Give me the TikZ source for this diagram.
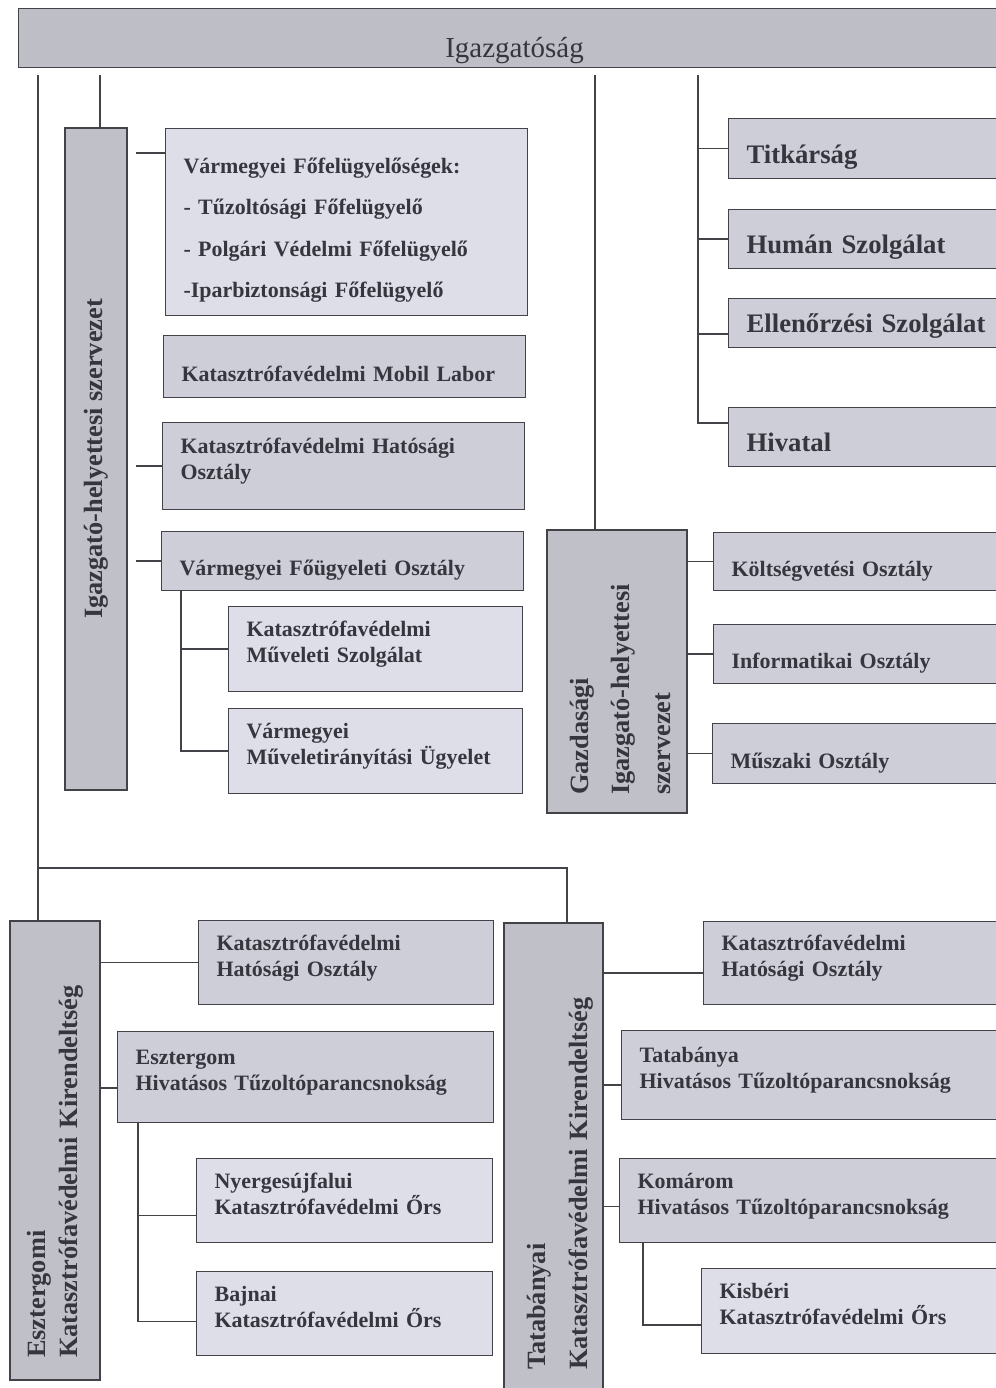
\documentclass[tikz,border=0pt]{standalone}
\usepackage{fontspec}
\setmainfont{Liberation Serif}

\definecolor{linec}{RGB}{66,66,72}
\definecolor{txtc}{RGB}{54,54,62}
\definecolor{topc}{RGB}{190,190,198}
\definecolor{vertc}{RGB}{192,192,200}
\definecolor{boxc}{RGB}{206,206,216}
\definecolor{lightc}{RGB}{222,222,232}

\begin{document}
\begin{tikzpicture}[x=0.02cm,y=-0.02cm,
  unit/.style={draw=linec,line width=0.7pt,fill=boxc,anchor=north west,align=left,
    inner xsep=0.36cm,inner ysep=0pt,text=txtc,font=\fontsize{12.5}{14.8}\selectfont\bfseries},
  one/.style={text height=0.68cm,text depth=0.1cm},
  two/.style={text height=0.32cm,text depth=0.82cm},
  big/.style={font=\fontsize{15.2}{18}\selectfont\bfseries},
  light/.style={fill=lightc},
  vert/.style={draw=linec,line width=0.7pt,fill=vertc,rotate=90,align=left,inner ysep=0pt,
    text=txtc,font=\fontsize{15}{18.2}\selectfont\bfseries},
  conn/.style={draw=linec,line width=1pt}]
  %\draw[step=100,gray,very thin] (0,0) grid (996,1388);

  \useasboundingbox (0,0) rectangle (996,1388);
  \fill[white] (0,0) rectangle (996,1388);

  % top
  \node[unit,fill=topc,align=center,font=\fontsize{16.5}{19}\selectfont,text width=19.12cm,
    minimum height=1.18cm,text height=0.86cm,text depth=0.1cm] (igazg) at (18,8) {Igazgatóság};

  % left column
  \node[vert,align=center,minimum width=13.24cm,minimum height=1.24cm] (ighely) at (96,459) {Igazgató-helyettesi szervezet};
  \node[unit,light,text width=6.52cm,minimum height=3.74cm,text height=0.32cm,text depth=2.26cm,
    font=\fontsize{12.5}{23.5}\selectfont\bfseries] (felugy) at (165,128)
    {Vármegyei Főfelügyelőségek:\\- Tűzoltósági Főfelügyelő\\- Polgári Védelmi Főfelügyelő\\-Iparbiztonsági Főfelügyelő};
  \node[unit,one,text width=6.52cm,minimum height=1.24cm] (labor) at (163,335) {Katasztrófavédelmi Mobil Labor};
  \node[unit,two,text width=6.52cm,minimum height=1.74cm] (hatos1) at (162,422) {Katasztrófavédelmi Hatósági\\Osztály};
  \node[unit,one,text width=6.52cm,minimum height=1.18cm] (fougy) at (161,531) {Vármegyei Főügyeleti Osztály};
  \node[unit,two,light,text width=5.16cm,minimum height=1.7cm] (muvszolg) at (228,606) {Katasztrófavédelmi\\Műveleti Szolgálat};
  \node[unit,two,light,text width=5.16cm,minimum height=1.7cm] (iranyit) at (228,708) {Vármegyei\\Műveletirányítási Ügyelet};

  % right column
  \node[unit,one,big,text width=4.92cm,minimum height=1.2cm] (titk) at (728,118) {Titkárság};
  \node[unit,one,big,text width=4.92cm,minimum height=1.18cm] (human) at (728,209) {Humán Szolgálat};
  \node[unit,one,big,text width=4.92cm,minimum height=0.98cm,text height=0.48cm] (ellen) at (728,298) {Ellenőrzési Szolgálat};
  \node[unit,one,big,text width=4.92cm,minimum height=1.18cm] (hivatal) at (728,407) {Hivatal};

  \node[vert,minimum width=5.66cm,minimum height=2.8cm,text width=4.94cm,inner xsep=0.36cm,text height=0.5cm,
    font=\fontsize{15}{23.3}\selectfont\bfseries] (gazd) at (617,671.5) {Gazdasági\\Igazgató-helyettesi\\szervezet};
  \node[unit,one,text width=5.22cm,minimum height=1.16cm] (kolts) at (713,532) {Költségvetési Osztály};
  \node[unit,one,text width=5.22cm,minimum height=1.18cm] (infor) at (713,624) {Informatikai Osztály};
  \node[unit,one,text width=5.24cm,minimum height=1.2cm] (muszak) at (712,723) {Műszaki Osztály};

  % Esztergom
  \node[vert,minimum width=9.18cm,minimum height=1.8cm,text width=8.3cm,inner xsep=0.44cm] (eszt) at (55,1150.5)
    {Esztergomi\\Katasztrófavédelmi Kirendeltség};
  \node[unit,two,text width=5.18cm,minimum height=1.68cm] (hatos2) at (198,920) {Katasztrófavédelmi\\Hatósági Osztály};
  \node[unit,two,text width=6.8cm,minimum height=1.82cm] (htp1) at (117,1031) {Esztergom\\Hivatásos Tűzoltóparancsnokság};
  \node[unit,two,light,text width=5.2cm,minimum height=1.68cm] (nyerg) at (196,1158) {Nyergesújfalui\\Katasztrófavédelmi Őrs};
  \node[unit,two,light,text width=5.2cm,minimum height=1.68cm] (bajna) at (196,1271) {Bajnai\\Katasztrófavédelmi Őrs};

  % Tatabanya
  \node[vert,minimum width=9.5cm,minimum height=1.98cm,text width=8.38cm,inner xsep=0.56cm,text height=0.62cm,
    font=\fontsize{15}{23.8}\selectfont\bfseries] (tata) at (553.5,1160.5) {Tatabányai\\Katasztrófavédelmi Kirendeltség};
  \node[unit,two,text width=5.42cm,minimum height=1.66cm] (hatos3) at (703,921) {Katasztrófavédelmi\\Hatósági Osztály};
  \node[unit,two,text width=7.06cm,minimum height=1.78cm] (htp2) at (621,1030) {Tatabánya\\Hivatásos Tűzoltóparancsnokság};
  \node[unit,two,text width=7.1cm,minimum height=1.68cm] (komar) at (619,1158) {Komárom\\Hivatásos Tűzoltóparancsnokság};
  \node[unit,two,light,text width=5.46cm,minimum height=1.7cm] (kisb) at (701,1268) {Kisbéri\\Katasztrófavédelmi Őrs};

  % branch points
  \coordinate (cA) at (38,75);
  \coordinate (cB) at (100,75);
  \coordinate (cC) at (595,75);
  \coordinate (cD) at (698,75);
  \coordinate (cE) at (567,868);
  \coordinate (felugy-in) at ([yshift=-0.5cm]felugy.north west);
  \coordinate (ellen-in) at ([yshift=-0.22cm]ellen.west);
  \coordinate (hivatal-in) at ([yshift=0.28cm]hivatal.west);
  \coordinate (fougy-out) at ([xshift=0.4cm]fougy.south west);
  \coordinate (htp1-in) at ([yshift=-0.22cm]htp1.west);
  \coordinate (htp1-out) at ([xshift=0.42cm]htp1.south west);
  \coordinate (nyerg-in) at ([yshift=-0.3cm]nyerg.west);
  \coordinate (bajna-in) at ([yshift=-0.16cm]bajna.west);
  \coordinate (hatos3-in) at ([yshift=-0.2cm]hatos3.west);
  \coordinate (htp2-in) at ([yshift=-0.2cm]htp2.west);
  \coordinate (komar-in) at ([yshift=-0.12cm]komar.west);
  \coordinate (komar-out) at ([xshift=0.48cm]komar.south west);
  \coordinate (kisb-in) at ([yshift=-0.28cm]kisb.west);

  % trunks from the top
  \draw[conn] (cA) -- (cA |- eszt.east);
  \draw[conn] (cA |- cE) -- (cE) -- (cE |- tata.east);
  \draw[conn] (cB) -- (cB |- ighely.east);
  \draw[conn] (cC) -- (cC |- gazd.east);
  \draw[conn] (cD) |- (hivatal-in);
  \draw[conn] (cD |- titk.west) -- (titk.west);
  \draw[conn] (cD |- human.west) -- (human.west);
  \draw[conn] (cD |- ellen-in) -- (ellen-in);

  % igazgato-helyettes
  \draw[conn,shorten <=0.16cm] (ighely.south |- felugy-in) -- (felugy-in);
  \draw[conn,shorten <=0.16cm] (ighely.south |- hatos1.west) -- (hatos1.west);
  \draw[conn,shorten <=0.16cm] (ighely.south |- fougy.west) -- (fougy.west);
  \draw[conn] (fougy-out) |- (iranyit.west);
  \draw[conn] (fougy-out |- muvszolg.west) -- (muvszolg.west);

  % gazdasagi
  \draw[conn] (gazd.south |- kolts.west) -- (kolts.west);
  \draw[conn] (gazd.south |- infor.west) -- (infor.west);
  \draw[conn] (gazd.south |- muszak.west) -- (muszak.west);

  % kirendeltsegek
  \draw[conn] (eszt.south |- hatos2.west) -- (hatos2.west);
  \draw[conn] (eszt.south |- htp1-in) -- (htp1-in);
  \draw[conn] (htp1-out) |- (bajna-in);
  \draw[conn] (htp1-out |- nyerg-in) -- (nyerg-in);

  \draw[conn] (tata.south |- hatos3-in) -- (hatos3-in);
  \draw[conn] (tata.south |- htp2-in) -- (htp2-in);
  \draw[conn] (tata.south |- komar-in) -- (komar-in);
  \draw[conn] (komar-out) |- (kisb-in);
\end{tikzpicture}
\end{document}
